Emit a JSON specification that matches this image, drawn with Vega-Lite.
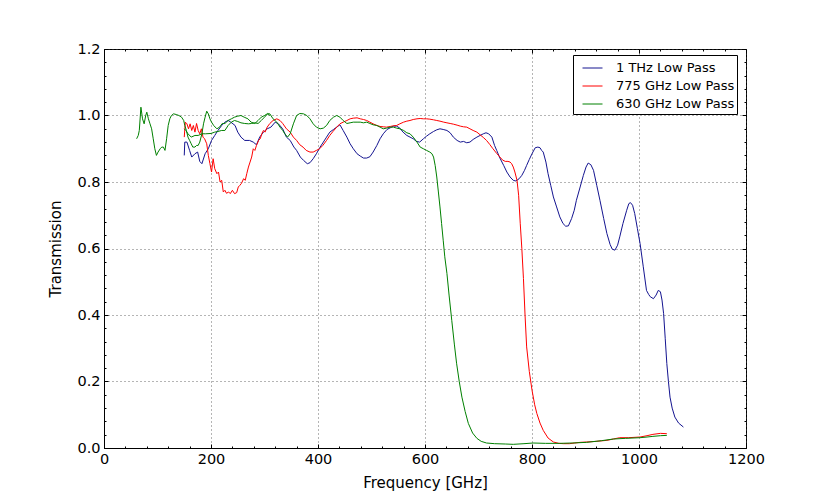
{
  "$schema": "https://vega.github.io/schema/vega-lite/v6.json",
  "description": "Filter transmission vs frequency",
  "autosize": "none",
  "padding": {"left": 104, "top": 49, "right": 84, "bottom": 50},
  "width": 642,
  "height": 399,
  "background": "white",
  "data": {
    "values": [
      {"s":"b","p":1,"f":150,"t":0.88},{"s":"b","p":1,"f":151,"t":0.92},{"s":"b","p":1,"f":155,"t":0.92},{"s":"b","p":1,"f":160,"t":0.895},{"s":"b","p":1,"f":164,"t":0.875},{"s":"b","p":1,"f":170,"t":0.885},{"s":"b","p":1,"f":175,"t":0.89},{"s":"b","p":1,"f":179,"t":0.862},{"s":"b","p":1,"f":183,"t":0.855},{"s":"b","p":1,"f":189,"t":0.885},{"s":"b","p":1,"f":195,"t":0.9},{"s":"b","p":1,"f":201,"t":0.925},{"s":"b","p":1,"f":207,"t":0.94},{"s":"b","p":1,"f":213,"t":0.955},{"s":"b","p":1,"f":220,"t":0.97},{"s":"b","p":1,"f":226,"t":0.98},{"s":"b","p":1,"f":232,"t":0.985},{"s":"b","p":1,"f":237,"t":0.98},{"s":"b","p":1,"f":245,"t":0.97},{"s":"b","p":1,"f":250,"t":0.95},{"s":"b","p":1,"f":256,"t":0.935},{"s":"b","p":1,"f":263,"t":0.925},{"s":"b","p":1,"f":272,"t":0.925},{"s":"b","p":1,"f":279,"t":0.92},{"s":"b","p":1,"f":285,"t":0.912},{"s":"b","p":1,"f":291,"t":0.935},{"s":"b","p":1,"f":298,"t":0.95},{"s":"b","p":1,"f":305,"t":0.96},{"s":"b","p":1,"f":312,"t":0.965},{"s":"b","p":1,"f":320,"t":0.98},{"s":"b","p":1,"f":326,"t":0.975},{"s":"b","p":1,"f":334,"t":0.96},{"s":"b","p":1,"f":341,"t":0.935},{"s":"b","p":1,"f":348,"t":0.925},{"s":"b","p":1,"f":355,"t":0.905},{"s":"b","p":1,"f":360,"t":0.895},{"s":"b","p":1,"f":367,"t":0.875},{"s":"b","p":1,"f":373,"t":0.865},{"s":"b","p":1,"f":380,"t":0.855},{"s":"b","p":1,"f":385,"t":0.858},{"s":"b","p":1,"f":391,"t":0.87},{"s":"b","p":1,"f":397,"t":0.885},{"s":"b","p":1,"f":404,"t":0.905},{"s":"b","p":1,"f":410,"t":0.92},{"s":"b","p":1,"f":416,"t":0.935},{"s":"b","p":1,"f":422,"t":0.95},{"s":"b","p":1,"f":429,"t":0.958},{"s":"b","p":1,"f":435,"t":0.965},{"s":"b","p":1,"f":441,"t":0.972},{"s":"b","p":1,"f":447,"t":0.955},{"s":"b","p":1,"f":454,"t":0.935},{"s":"b","p":1,"f":460,"t":0.915},{"s":"b","p":1,"f":466,"t":0.9},{"s":"b","p":1,"f":473,"t":0.885},{"s":"b","p":1,"f":479,"t":0.878},{"s":"b","p":1,"f":485,"t":0.872},{"s":"b","p":1,"f":491,"t":0.872},{"s":"b","p":1,"f":497,"t":0.876},{"s":"b","p":1,"f":503,"t":0.89},{"s":"b","p":1,"f":510,"t":0.91},{"s":"b","p":1,"f":516,"t":0.93},{"s":"b","p":1,"f":522,"t":0.945},{"s":"b","p":1,"f":529,"t":0.958},{"s":"b","p":1,"f":535,"t":0.963},{"s":"b","p":1,"f":541,"t":0.968},{"s":"b","p":1,"f":547,"t":0.968},{"s":"b","p":1,"f":553,"t":0.962},{"s":"b","p":1,"f":559,"t":0.95},{"s":"b","p":1,"f":566,"t":0.94},{"s":"b","p":1,"f":572,"t":0.935},{"s":"b","p":1,"f":578,"t":0.93},{"s":"b","p":1,"f":584,"t":0.922},{"s":"b","p":1,"f":590,"t":0.92},{"s":"b","p":1,"f":597,"t":0.93},{"s":"b","p":1,"f":603,"t":0.938},{"s":"b","p":1,"f":609,"t":0.945},{"s":"b","p":1,"f":616,"t":0.952},{"s":"b","p":1,"f":622,"t":0.957},{"s":"b","p":1,"f":628,"t":0.96},{"s":"b","p":1,"f":634,"t":0.958},{"s":"b","p":1,"f":641,"t":0.955},{"s":"b","p":1,"f":647,"t":0.948},{"s":"b","p":1,"f":653,"t":0.935},{"s":"b","p":1,"f":660,"t":0.925},{"s":"b","p":1,"f":666,"t":0.92},{"s":"b","p":1,"f":672,"t":0.922},{"s":"b","p":1,"f":678,"t":0.918},{"s":"b","p":1,"f":684,"t":0.92},{"s":"b","p":1,"f":690,"t":0.928},{"s":"b","p":1,"f":697,"t":0.935},{"s":"b","p":1,"f":703,"t":0.94},{"s":"b","p":1,"f":709,"t":0.945},{"s":"b","p":1,"f":714,"t":0.948},{"s":"b","p":1,"f":719,"t":0.945},{"s":"b","p":1,"f":725,"t":0.935},{"s":"b","p":1,"f":730,"t":0.91},{"s":"b","p":1,"f":734,"t":0.895},{"s":"b","p":1,"f":740,"t":0.872},{"s":"b","p":1,"f":747,"t":0.85},{"s":"b","p":1,"f":753,"t":0.83},{"s":"b","p":1,"f":759,"t":0.815},{"s":"b","p":1,"f":765,"t":0.805},{"s":"b","p":1,"f":770,"t":0.803},{"s":"b","p":1,"f":776,"t":0.81},{"s":"b","p":1,"f":781,"t":0.82},{"s":"b","p":1,"f":786,"t":0.835},{"s":"b","p":1,"f":790,"t":0.85},{"s":"b","p":1,"f":795,"t":0.868},{"s":"b","p":1,"f":800,"t":0.885},{"s":"b","p":1,"f":806,"t":0.903},{"s":"b","p":1,"f":811,"t":0.905},{"s":"b","p":1,"f":815,"t":0.903},{"s":"b","p":1,"f":818,"t":0.895},{"s":"b","p":1,"f":821,"t":0.89},{"s":"b","p":1,"f":826,"t":0.86},{"s":"b","p":1,"f":830,"t":0.825},{"s":"b","p":1,"f":835,"t":0.79},{"s":"b","p":1,"f":840,"t":0.755},{"s":"b","p":1,"f":846,"t":0.725},{"s":"b","p":1,"f":852,"t":0.695},{"s":"b","p":1,"f":858,"t":0.675},{"s":"b","p":1,"f":863,"t":0.667},{"s":"b","p":1,"f":868,"t":0.668},{"s":"b","p":1,"f":874,"t":0.69},{"s":"b","p":1,"f":879,"t":0.715},{"s":"b","p":1,"f":883,"t":0.745},{"s":"b","p":1,"f":890,"t":0.785},{"s":"b","p":1,"f":896,"t":0.82},{"s":"b","p":1,"f":901,"t":0.845},{"s":"b","p":1,"f":905,"t":0.857},{"s":"b","p":1,"f":910,"t":0.852},{"s":"b","p":1,"f":915,"t":0.835},{"s":"b","p":1,"f":921,"t":0.79},{"s":"b","p":1,"f":927,"t":0.745},{"s":"b","p":1,"f":934,"t":0.69},{"s":"b","p":1,"f":940,"t":0.645},{"s":"b","p":1,"f":946,"t":0.612},{"s":"b","p":1,"f":950,"t":0.598},{"s":"b","p":1,"f":955,"t":0.595},{"s":"b","p":1,"f":960,"t":0.61},{"s":"b","p":1,"f":964,"t":0.635},{"s":"b","p":1,"f":970,"t":0.675},{"s":"b","p":1,"f":977,"t":0.715},{"s":"b","p":1,"f":981,"t":0.735},{"s":"b","p":1,"f":984,"t":0.738},{"s":"b","p":1,"f":988,"t":0.73},{"s":"b","p":1,"f":992,"t":0.705},{"s":"b","p":1,"f":997,"t":0.66},{"s":"b","p":1,"f":1002,"t":0.615},{"s":"b","p":1,"f":1008,"t":0.545},{"s":"b","p":1,"f":1014,"t":0.474},{"s":"b","p":1,"f":1018,"t":0.462},{"s":"b","p":1,"f":1021,"t":0.455},{"s":"b","p":1,"f":1027,"t":0.449},{"s":"b","p":1,"f":1032,"t":0.46},{"s":"b","p":1,"f":1036,"t":0.474},{"s":"b","p":1,"f":1040,"t":0.47},{"s":"b","p":1,"f":1043,"t":0.445},{"s":"b","p":1,"f":1046,"t":0.404},{"s":"b","p":1,"f":1049,"t":0.33},{"s":"b","p":1,"f":1052,"t":0.254},{"s":"b","p":1,"f":1055,"t":0.2},{"s":"b","p":1,"f":1058,"t":0.153},{"s":"b","p":1,"f":1062,"t":0.12},{"s":"b","p":1,"f":1067,"t":0.093},{"s":"b","p":1,"f":1074,"t":0.075},{"s":"b","p":1,"f":1083,"t":0.063},
      {"s":"r","p":1,"f":150,"t":0.935},{"s":"r","p":1,"f":152,"t":0.98},{"s":"r","p":1,"f":155,"t":0.975},{"s":"r","p":1,"f":158,"t":0.96},{"s":"r","p":1,"f":161,"t":0.975},{"s":"r","p":1,"f":164,"t":0.955},{"s":"r","p":1,"f":167,"t":0.97},{"s":"r","p":1,"f":170,"t":0.95},{"s":"r","p":1,"f":173,"t":0.976},{"s":"r","p":1,"f":176,"t":0.955},{"s":"r","p":1,"f":179,"t":0.945},{"s":"r","p":1,"f":182,"t":0.96},{"s":"r","p":1,"f":185,"t":0.935},{"s":"r","p":1,"f":188,"t":0.93},{"s":"r","p":1,"f":192,"t":0.915},{"s":"r","p":1,"f":195,"t":0.88},{"s":"r","p":1,"f":198,"t":0.855},{"s":"r","p":1,"f":201,"t":0.83},{"s":"r","p":1,"f":204,"t":0.87},{"s":"r","p":1,"f":207,"t":0.84},{"s":"r","p":1,"f":211,"t":0.825},{"s":"r","p":1,"f":214,"t":0.83},{"s":"r","p":1,"f":217,"t":0.8},{"s":"r","p":1,"f":220,"t":0.805},{"s":"r","p":1,"f":223,"t":0.77},{"s":"r","p":1,"f":226,"t":0.775},{"s":"r","p":1,"f":229,"t":0.766},{"s":"r","p":1,"f":233,"t":0.77},{"s":"r","p":1,"f":236,"t":0.765},{"s":"r","p":1,"f":240,"t":0.775},{"s":"r","p":1,"f":244,"t":0.765},{"s":"r","p":1,"f":248,"t":0.768},{"s":"r","p":1,"f":251,"t":0.785},{"s":"r","p":1,"f":254,"t":0.79},{"s":"r","p":1,"f":257,"t":0.796},{"s":"r","p":1,"f":261,"t":0.81},{"s":"r","p":1,"f":264,"t":0.805},{"s":"r","p":1,"f":267,"t":0.826},{"s":"r","p":1,"f":270,"t":0.845},{"s":"r","p":1,"f":273,"t":0.86},{"s":"r","p":1,"f":276,"t":0.875},{"s":"r","p":1,"f":279,"t":0.9},{"s":"r","p":1,"f":282,"t":0.895},{"s":"r","p":1,"f":285,"t":0.91},{"s":"r","p":1,"f":289,"t":0.925},{"s":"r","p":1,"f":292,"t":0.93},{"s":"r","p":1,"f":295,"t":0.945},{"s":"r","p":1,"f":298,"t":0.955},{"s":"r","p":1,"f":301,"t":0.95},{"s":"r","p":1,"f":305,"t":0.965},{"s":"r","p":1,"f":310,"t":0.976},{"s":"r","p":1,"f":316,"t":0.985},{"s":"r","p":1,"f":323,"t":0.99},{"s":"r","p":1,"f":329,"t":0.985},{"s":"r","p":1,"f":334,"t":0.976},{"s":"r","p":1,"f":341,"t":0.96},{"s":"r","p":1,"f":348,"t":0.95},{"s":"r","p":1,"f":354,"t":0.935},{"s":"r","p":1,"f":360,"t":0.925},{"s":"r","p":1,"f":366,"t":0.912},{"s":"r","p":1,"f":372,"t":0.905},{"s":"r","p":1,"f":378,"t":0.895},{"s":"r","p":1,"f":385,"t":0.89},{"s":"r","p":1,"f":391,"t":0.89},{"s":"r","p":1,"f":397,"t":0.895},{"s":"r","p":1,"f":403,"t":0.9},{"s":"r","p":1,"f":409,"t":0.91},{"s":"r","p":1,"f":416,"t":0.925},{"s":"r","p":1,"f":422,"t":0.94},{"s":"r","p":1,"f":428,"t":0.952},{"s":"r","p":1,"f":435,"t":0.965},{"s":"r","p":1,"f":441,"t":0.975},{"s":"r","p":1,"f":447,"t":0.98},{"s":"r","p":1,"f":454,"t":0.985},{"s":"r","p":1,"f":460,"t":0.99},{"s":"r","p":1,"f":466,"t":0.992},{"s":"r","p":1,"f":473,"t":0.993},{"s":"r","p":1,"f":479,"t":0.99},{"s":"r","p":1,"f":485,"t":0.988},{"s":"r","p":1,"f":491,"t":0.985},{"s":"r","p":1,"f":497,"t":0.98},{"s":"r","p":1,"f":503,"t":0.975},{"s":"r","p":1,"f":510,"t":0.97},{"s":"r","p":1,"f":516,"t":0.967},{"s":"r","p":1,"f":522,"t":0.966},{"s":"r","p":1,"f":528,"t":0.965},{"s":"r","p":1,"f":535,"t":0.967},{"s":"r","p":1,"f":541,"t":0.969},{"s":"r","p":1,"f":547,"t":0.97},{"s":"r","p":1,"f":553,"t":0.975},{"s":"r","p":1,"f":560,"t":0.98},{"s":"r","p":1,"f":566,"t":0.983},{"s":"r","p":1,"f":572,"t":0.985},{"s":"r","p":1,"f":578,"t":0.988},{"s":"r","p":1,"f":585,"t":0.99},{"s":"r","p":1,"f":591,"t":0.991},{"s":"r","p":1,"f":597,"t":0.99},{"s":"r","p":1,"f":603,"t":0.99},{"s":"r","p":1,"f":609,"t":0.989},{"s":"r","p":1,"f":616,"t":0.987},{"s":"r","p":1,"f":622,"t":0.985},{"s":"r","p":1,"f":628,"t":0.983},{"s":"r","p":1,"f":635,"t":0.98},{"s":"r","p":1,"f":641,"t":0.978},{"s":"r","p":1,"f":647,"t":0.976},{"s":"r","p":1,"f":653,"t":0.974},{"s":"r","p":1,"f":660,"t":0.971},{"s":"r","p":1,"f":666,"t":0.968},{"s":"r","p":1,"f":672,"t":0.966},{"s":"r","p":1,"f":678,"t":0.965},{"s":"r","p":1,"f":684,"t":0.96},{"s":"r","p":1,"f":690,"t":0.955},{"s":"r","p":1,"f":697,"t":0.95},{"s":"r","p":1,"f":703,"t":0.942},{"s":"r","p":1,"f":709,"t":0.934},{"s":"r","p":1,"f":715,"t":0.925},{"s":"r","p":1,"f":721,"t":0.913},{"s":"r","p":1,"f":727,"t":0.9},{"s":"r","p":1,"f":734,"t":0.886},{"s":"r","p":1,"f":740,"t":0.875},{"s":"r","p":1,"f":745,"t":0.866},{"s":"r","p":1,"f":750,"t":0.862},{"s":"r","p":1,"f":755,"t":0.862},{"s":"r","p":1,"f":759,"t":0.86},{"s":"r","p":1,"f":762,"t":0.855},{"s":"r","p":1,"f":765,"t":0.845},{"s":"r","p":1,"f":768,"t":0.83},{"s":"r","p":1,"f":772,"t":0.805},{"s":"r","p":1,"f":775,"t":0.76},{"s":"r","p":1,"f":778,"t":0.676},{"s":"r","p":1,"f":781,"t":0.6},{"s":"r","p":1,"f":784,"t":0.51},{"s":"r","p":1,"f":787,"t":0.4},{"s":"r","p":1,"f":790,"t":0.304},{"s":"r","p":1,"f":795,"t":0.23},{"s":"r","p":1,"f":800,"t":0.174},{"s":"r","p":1,"f":805,"t":0.13},{"s":"r","p":1,"f":809,"t":0.104},{"s":"r","p":1,"f":815,"t":0.075},{"s":"r","p":1,"f":821,"t":0.053},{"s":"r","p":1,"f":830,"t":0.03},{"s":"r","p":1,"f":840,"t":0.018},{"s":"r","p":1,"f":850,"t":0.014},{"s":"r","p":1,"f":859,"t":0.013},{"s":"r","p":1,"f":870,"t":0.013},{"s":"r","p":1,"f":880,"t":0.015},{"s":"r","p":1,"f":890,"t":0.017},{"s":"r","p":1,"f":902,"t":0.018},{"s":"r","p":1,"f":920,"t":0.02},{"s":"r","p":1,"f":940,"t":0.023},{"s":"r","p":1,"f":952,"t":0.027},{"s":"r","p":1,"f":964,"t":0.031},{"s":"r","p":1,"f":980,"t":0.031},{"s":"r","p":1,"f":1002,"t":0.033},{"s":"r","p":1,"f":1015,"t":0.037},{"s":"r","p":1,"f":1026,"t":0.041},{"s":"r","p":1,"f":1040,"t":0.044},{"s":"r","p":1,"f":1052,"t":0.043},
      {"s":"g","p":1,"f":61,"t":0.93},{"s":"g","p":1,"f":64,"t":0.94},{"s":"g","p":1,"f":66,"t":0.955},{"s":"g","p":1,"f":69,"t":1.025},{"s":"g","p":1,"f":72,"t":0.99},{"s":"g","p":1,"f":75,"t":0.975},{"s":"g","p":1,"f":78,"t":1.0},{"s":"g","p":1,"f":80,"t":1.01},{"s":"g","p":1,"f":83,"t":0.99},{"s":"g","p":1,"f":86,"t":0.975},{"s":"g","p":1,"f":89,"t":0.96},{"s":"g","p":1,"f":92,"t":0.93},{"s":"g","p":1,"f":95,"t":0.9},{"s":"g","p":1,"f":98,"t":0.88},{"s":"g","p":1,"f":101,"t":0.89},{"s":"g","p":1,"f":105,"t":0.9},{"s":"g","p":1,"f":108,"t":0.905},{"s":"g","p":1,"f":111,"t":0.905},{"s":"g","p":1,"f":114,"t":0.895},{"s":"g","p":1,"f":117,"t":0.93},{"s":"g","p":1,"f":120,"t":0.97},{"s":"g","p":1,"f":123,"t":0.99},{"s":"g","p":1,"f":126,"t":1.0},{"s":"g","p":1,"f":130,"t":1.005},{"s":"g","p":1,"f":135,"t":1.003},{"s":"g","p":1,"f":140,"t":1.0},{"s":"g","p":1,"f":145,"t":0.995},{"s":"g","p":1,"f":149,"t":0.985},{"s":"g","p":1,"f":151,"t":0.97},{"s":"g","p":1,"f":154,"t":0.955},{"s":"g","p":1,"f":157,"t":0.935},{"s":"g","p":1,"f":160,"t":0.925},{"s":"g","p":1,"f":163,"t":0.915},{"s":"g","p":1,"f":166,"t":0.905},{"s":"g","p":1,"f":170,"t":0.905},{"s":"g","p":1,"f":173,"t":0.91},{"s":"g","p":1,"f":176,"t":0.91},{"s":"g","p":1,"f":179,"t":0.92},{"s":"g","p":1,"f":183,"t":0.945},{"s":"g","p":1,"f":186,"t":0.975},{"s":"g","p":1,"f":189,"t":0.995},{"s":"g","p":1,"f":192,"t":1.013},{"s":"g","p":1,"f":195,"t":1.005},{"s":"g","p":1,"f":198,"t":0.99},{"s":"g","p":1,"f":201,"t":0.98},{"s":"g","p":1,"f":205,"t":0.97},{"s":"g","p":1,"f":211,"t":0.96},{"s":"g","p":1,"f":216,"t":0.965},{"s":"g","p":1,"f":221,"t":0.976},{"s":"g","p":1,"f":226,"t":0.976},{"s":"g","p":1,"f":232,"t":0.985},{"s":"g","p":1,"f":238,"t":0.99},{"s":"g","p":1,"f":244,"t":0.995},{"s":"g","p":1,"f":250,"t":0.998},{"s":"g","p":1,"f":256,"t":1.0},{"s":"g","p":1,"f":262,"t":0.995},{"s":"g","p":1,"f":269,"t":0.99},{"s":"g","p":1,"f":275,"t":0.98},{"s":"g","p":1,"f":282,"t":0.976},{"s":"g","p":1,"f":288,"t":0.985},{"s":"g","p":1,"f":294,"t":0.995},{"s":"g","p":1,"f":300,"t":1.0},{"s":"g","p":1,"f":306,"t":1.006},{"s":"g","p":1,"f":310,"t":1.0},
      {"s":"g","p":2,"f":150,"t":0.96},{"s":"g","p":2,"f":153,"t":0.955},{"s":"g","p":2,"f":157,"t":0.945},{"s":"g","p":2,"f":163,"t":0.935},{"s":"g","p":2,"f":170,"t":0.94},{"s":"g","p":2,"f":176,"t":0.94},{"s":"g","p":2,"f":183,"t":0.945},{"s":"g","p":2,"f":190,"t":0.945},{"s":"g","p":2,"f":200,"t":0.946},{"s":"g","p":2,"f":207,"t":0.95},{"s":"g","p":2,"f":213,"t":0.952},{"s":"g","p":2,"f":220,"t":0.955},{"s":"g","p":2,"f":226,"t":0.955},{"s":"g","p":2,"f":232,"t":0.97},{"s":"g","p":2,"f":238,"t":0.98},{"s":"g","p":2,"f":244,"t":0.985},{"s":"g","p":2,"f":250,"t":0.982},{"s":"g","p":2,"f":256,"t":0.978},{"s":"g","p":2,"f":263,"t":0.976},{"s":"g","p":2,"f":270,"t":0.975},{"s":"g","p":2,"f":276,"t":0.976},{"s":"g","p":2,"f":282,"t":0.978},{"s":"g","p":2,"f":288,"t":0.976},{"s":"g","p":2,"f":294,"t":0.985},{"s":"g","p":2,"f":300,"t":0.995},{"s":"g","p":2,"f":306,"t":1.005},{"s":"g","p":2,"f":310,"t":1.005},{"s":"g","p":2,"f":316,"t":0.99},{"s":"g","p":2,"f":323,"t":0.98},{"s":"g","p":2,"f":329,"t":0.965},{"s":"g","p":2,"f":334,"t":0.955},{"s":"g","p":2,"f":338,"t":0.945},{"s":"g","p":2,"f":343,"t":0.935},{"s":"g","p":2,"f":348,"t":0.945},{"s":"g","p":2,"f":354,"t":0.975},{"s":"g","p":2,"f":360,"t":1.0},{"s":"g","p":2,"f":366,"t":1.006},{"s":"g","p":2,"f":373,"t":1.005},{"s":"g","p":2,"f":379,"t":1.0},{"s":"g","p":2,"f":385,"t":0.99},{"s":"g","p":2,"f":391,"t":0.975},{"s":"g","p":2,"f":397,"t":0.965},{"s":"g","p":2,"f":404,"t":0.96},{"s":"g","p":2,"f":410,"t":0.962},{"s":"g","p":2,"f":416,"t":0.97},{"s":"g","p":2,"f":422,"t":0.985},{"s":"g","p":2,"f":429,"t":0.995},{"s":"g","p":2,"f":435,"t":1.0},{"s":"g","p":2,"f":441,"t":0.995},{"s":"g","p":2,"f":447,"t":0.985},{"s":"g","p":2,"f":454,"t":0.976},{"s":"g","p":2,"f":460,"t":0.978},{"s":"g","p":2,"f":466,"t":0.98},{"s":"g","p":2,"f":473,"t":0.98},{"s":"g","p":2,"f":479,"t":0.98},{"s":"g","p":2,"f":485,"t":0.978},{"s":"g","p":2,"f":491,"t":0.98},{"s":"g","p":2,"f":497,"t":0.976},{"s":"g","p":2,"f":503,"t":0.972},{"s":"g","p":2,"f":510,"t":0.97},{"s":"g","p":2,"f":516,"t":0.965},{"s":"g","p":2,"f":522,"t":0.96},{"s":"g","p":2,"f":528,"t":0.962},{"s":"g","p":2,"f":535,"t":0.965},{"s":"g","p":2,"f":541,"t":0.965},{"s":"g","p":2,"f":547,"t":0.962},{"s":"g","p":2,"f":553,"t":0.96},{"s":"g","p":2,"f":560,"t":0.955},{"s":"g","p":2,"f":566,"t":0.948},{"s":"g","p":2,"f":572,"t":0.945},{"s":"g","p":2,"f":578,"t":0.935},{"s":"g","p":2,"f":585,"t":0.92},{"s":"g","p":2,"f":591,"t":0.905},{"s":"g","p":2,"f":597,"t":0.9},{"s":"g","p":2,"f":603,"t":0.895},{"s":"g","p":2,"f":609,"t":0.89},{"s":"g","p":2,"f":613,"t":0.885},{"s":"g","p":2,"f":616,"t":0.875},{"s":"g","p":2,"f":619,"t":0.85},{"s":"g","p":2,"f":622,"t":0.815},{"s":"g","p":2,"f":625,"t":0.77},{"s":"g","p":2,"f":628,"t":0.725},{"s":"g","p":2,"f":631,"t":0.675},{"s":"g","p":2,"f":634,"t":0.625},{"s":"g","p":2,"f":637,"t":0.575},{"s":"g","p":2,"f":641,"t":0.525},{"s":"g","p":2,"f":645,"t":0.46},{"s":"g","p":2,"f":650,"t":0.384},{"s":"g","p":2,"f":655,"t":0.31},{"s":"g","p":2,"f":659,"t":0.255},{"s":"g","p":2,"f":664,"t":0.2},{"s":"g","p":2,"f":669,"t":0.153},{"s":"g","p":2,"f":675,"t":0.11},{"s":"g","p":2,"f":681,"t":0.074},{"s":"g","p":2,"f":689,"t":0.045},{"s":"g","p":2,"f":697,"t":0.029},{"s":"g","p":2,"f":705,"t":0.02},{"s":"g","p":2,"f":715,"t":0.015},{"s":"g","p":2,"f":730,"t":0.013},{"s":"g","p":2,"f":750,"t":0.012},{"s":"g","p":2,"f":765,"t":0.011},{"s":"g","p":2,"f":785,"t":0.013},{"s":"g","p":2,"f":802,"t":0.015},{"s":"g","p":2,"f":825,"t":0.014},{"s":"g","p":2,"f":851,"t":0.014},{"s":"g","p":2,"f":875,"t":0.015},{"s":"g","p":2,"f":902,"t":0.017},{"s":"g","p":2,"f":930,"t":0.022},{"s":"g","p":2,"f":952,"t":0.027},{"s":"g","p":2,"f":975,"t":0.029},{"s":"g","p":2,"f":1002,"t":0.031},{"s":"g","p":2,"f":1015,"t":0.033},{"s":"g","p":2,"f":1026,"t":0.035},{"s":"g","p":2,"f":1040,"t":0.037},{"s":"g","p":2,"f":1052,"t":0.038}
    ]
  },
  "layer": [
    {
      "mark": {"type": "line", "strokeWidth": 1, "clip": true},
      "encoding": {
        "x": {
          "field": "f",
          "type": "quantitative",
          "scale": {"domain": [0, 1200], "nice": false},
          "axis": {
            "orient": "bottom",
            "title": "Frequency [GHz]",
            "values": [0, 200, 400, 600, 800, 1000, 1200],
            "format": "d",
            "tickSize": -4,
            "labelPadding": 8,
            "titlePadding": 10
          }
        },
        "y": {
          "field": "t",
          "type": "quantitative",
          "scale": {"domain": [0, 1.2], "nice": false},
          "axis": {
            "orient": "left",
            "title": "Transmission",
            "values": [0, 0.2, 0.4, 0.6, 0.8, 1.0, 1.2],
            "format": ".1f",
            "tickSize": -4,
            "labelPadding": 8,
            "titlePadding": 13
          }
        },
        "color": {
          "field": "s",
          "type": "nominal",
          "scale": {"domain": ["b", "r", "g"], "range": ["#141490", "#ff0000", "#008000"]},
          "legend": {
            "title": null,
            "orient": "none",
            "legendX": 469,
            "legendY": 6,
            "labelExpr": "{'b': '1 THz Low Pass', 'r': '775 GHz Low Pass', 'g': '630 GHz Low Pass'}[datum.label]",
            "symbolType": "stroke",
            "symbolSize": 400,
            "symbolStrokeWidth": 1,
            "symbolOffset": 6.5,
            "labelOffset": 13,
            "labelFontSize": 13,
            "labelFont": "DejaVu Sans",
            "labelColor": "black",
            "rowPadding": -1.5,
            "padding": 2.5,
            "strokeColor": "black",
            "fillColor": "white",
            "cornerRadius": 0,
            "encode": {
              "symbols": {"update": {"stroke": {"scale": "color", "field": "value"}, "strokeWidth": {"value": 1}}}
            }
          }
        },
        "detail": {"field": "p", "type": "nominal"}
      }
    },
    {
      "mark": {"type": "line", "strokeOpacity": 0},
      "encoding": {
        "x": {
          "field": "f",
          "type": "quantitative",
          "scale": {"domain": [0, 1200], "nice": false},
          "axis": {
            "orient": "bottom", "title": null, "labels": false, "grid": false, "domain": false, "tickSize": -2,
            "values": [40,80,120,160,240,280,320,360,440,480,520,560,640,680,720,760,840,880,920,960,1040,1080,1120,1160]
          }
        },
        "y": {
          "field": "t",
          "type": "quantitative",
          "scale": {"domain": [0, 1.2], "nice": false},
          "axis": {
            "orient": "left", "title": null, "labels": false, "grid": false, "domain": false, "tickSize": -2,
            "values": [0.04,0.08,0.12,0.16,0.24,0.28,0.32,0.36,0.44,0.48,0.52,0.56,0.64,0.68,0.72,0.76,0.84,0.88,0.92,0.96,1.04,1.08,1.12,1.16]
          }
        },
        "detail": {"field": "s", "type": "nominal"}
      }
    },
    {
      "mark": {"type": "line", "strokeOpacity": 0},
      "encoding": {
        "x": {
          "field": "f",
          "type": "quantitative",
          "scale": {"domain": [0, 1200], "nice": false},
          "axis": {
            "orient": "top", "title": null, "labels": false, "grid": false, "domain": false, "tickSize": -4,
            "values": [0, 200, 400, 600, 800, 1000, 1200]
          }
        },
        "y": {
          "field": "t",
          "type": "quantitative",
          "scale": {"domain": [0, 1.2], "nice": false},
          "axis": {
            "orient": "right", "title": null, "labels": false, "grid": false, "domain": false, "tickSize": -4,
            "values": [0, 0.2, 0.4, 0.6, 0.8, 1.0, 1.2]
          }
        },
        "detail": {"field": "s", "type": "nominal"}
      }
    },
    {
      "mark": {"type": "line", "strokeOpacity": 0},
      "encoding": {
        "x": {
          "field": "f",
          "type": "quantitative",
          "scale": {"domain": [0, 1200], "nice": false},
          "axis": {
            "orient": "top", "title": null, "labels": false, "grid": false, "domain": false, "tickSize": -2,
            "values": [40,80,120,160,240,280,320,360,440,480,520,560,640,680,720,760,840,880,920,960,1040,1080,1120,1160]
          }
        },
        "y": {
          "field": "t",
          "type": "quantitative",
          "scale": {"domain": [0, 1.2], "nice": false},
          "axis": {
            "orient": "right", "title": null, "labels": false, "grid": false, "domain": false, "tickSize": -2,
            "values": [0.04,0.08,0.12,0.16,0.24,0.28,0.32,0.36,0.44,0.48,0.52,0.56,0.64,0.68,0.72,0.76,0.84,0.88,0.92,0.96,1.04,1.08,1.12,1.16]
          }
        },
        "detail": {"field": "s", "type": "nominal"}
      }
    }
  ],
  "resolve": {"axis": {"x": "independent", "y": "independent"}},
  "config": {
    "view": {"stroke": "black", "strokeWidth": 1},
    "axis": {
      "domainColor": "black",
      "tickColor": "black",
      "tickWidth": 1,
      "labelColor": "black",
      "labelFont": "DejaVu Sans",
      "labelFontSize": 14.5,
      "labelFlush": false,
      "labelOverlap": false,
      "titleFont": "DejaVu Sans",
      "titleFontSize": 15,
      "titleFontWeight": "normal",
      "titleColor": "black",
      "grid": true,
      "gridColor": "#444444",
      "gridDash": [1, 3],
      "gridWidth": 0.8
    }
  }
}
